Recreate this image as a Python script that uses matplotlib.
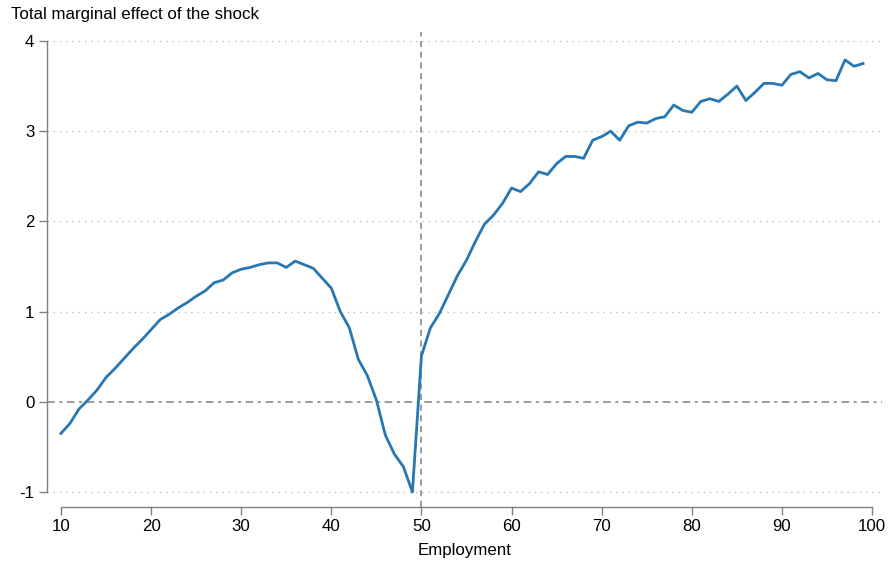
import matplotlib
matplotlib.use("Agg")
import matplotlib.pyplot as plt

plt.rcParams["font.family"] = ["Liberation Sans", "DejaVu Sans"]
plt.rcParams["axes.unicode_minus"] = False

# employment level and the total marginal effect
employment = list(range(10, 100))
effect = [
    -0.35, -0.24, -0.08, 0.02, 0.13, 0.27, 0.37, 0.48, 0.59, 0.69,
    0.80, 0.91, 0.97, 1.04, 1.10, 1.17, 1.23, 1.32, 1.35, 1.43,
    1.47, 1.49, 1.52, 1.54, 1.54, 1.49, 1.56, 1.52, 1.48, 1.37,
    1.26, 1.00, 0.82, 0.47, 0.29, 0.02, -0.37, -0.58, -0.72, -1.00,
    0.51, 0.82, 0.98, 1.19, 1.40, 1.57, 1.78, 1.97, 2.07, 2.20,
    2.37, 2.33, 2.42, 2.55, 2.52, 2.64, 2.72, 2.72, 2.70, 2.90,
    2.94, 3.00, 2.90, 3.06, 3.10, 3.09, 3.14, 3.16, 3.29, 3.23,
    3.21, 3.33, 3.36, 3.33, 3.41, 3.50, 3.34, 3.43, 3.53, 3.53,
    3.51, 3.63, 3.66, 3.59, 3.64, 3.57, 3.56, 3.79, 3.72, 3.75,
]
xticks = list(range(10, 101, 10))
yticks = [-1, 0, 1, 2, 3, 4]

fig = plt.figure(figsize=(8.88, 5.63), dpi=100)
ax = fig.add_axes([0.0529, 0.0995, 0.9403, 0.8437])

# grid lines first, then the reference lines
for y in yticks:
    if y != 0:
        ax.axhline(y, color="#b4b4b4", lw=0.9, ls=(0, (1, 4)), zorder=1)
ax.axhline(0, color="#808080", lw=1.1, ls=(0, (5, 3, 2, 3)), zorder=2)
ax.axvline(50, color="#808080", lw=1.1, ls=(0, (4, 3)), zorder=2)

ax.plot(employment, effect, color="#2677b4", lw=2.0, zorder=3)

ax.set_xlim(8.45, 101.1)
ax.set_ylim(-1.166, 4.1)
ax.set_xticks(xticks)
ax.set_yticks(yticks)

for side in ["top", "right"]:
    ax.spines[side].set_visible(False)
ax.spines["left"].set_bounds(-1, 4)
ax.spines["bottom"].set_bounds(10, 100)
for side in ["left", "bottom"]:
    ax.spines[side].set_color("#808080")
    ax.spines[side].set_linewidth(1.0)

ax.tick_params(axis="both", direction="out", length=6, width=1.0,
               color="#808080", labelsize=12.2, labelcolor="black", pad=3)

ax.set_xlabel("Employment", fontsize=12.2, labelpad=6)
fig.text(0.0124, 0.966, "Total marginal effect of the shock",
         fontsize=12.2, ha="left", va="baseline")

fig.savefig("out.png", dpi=100)
